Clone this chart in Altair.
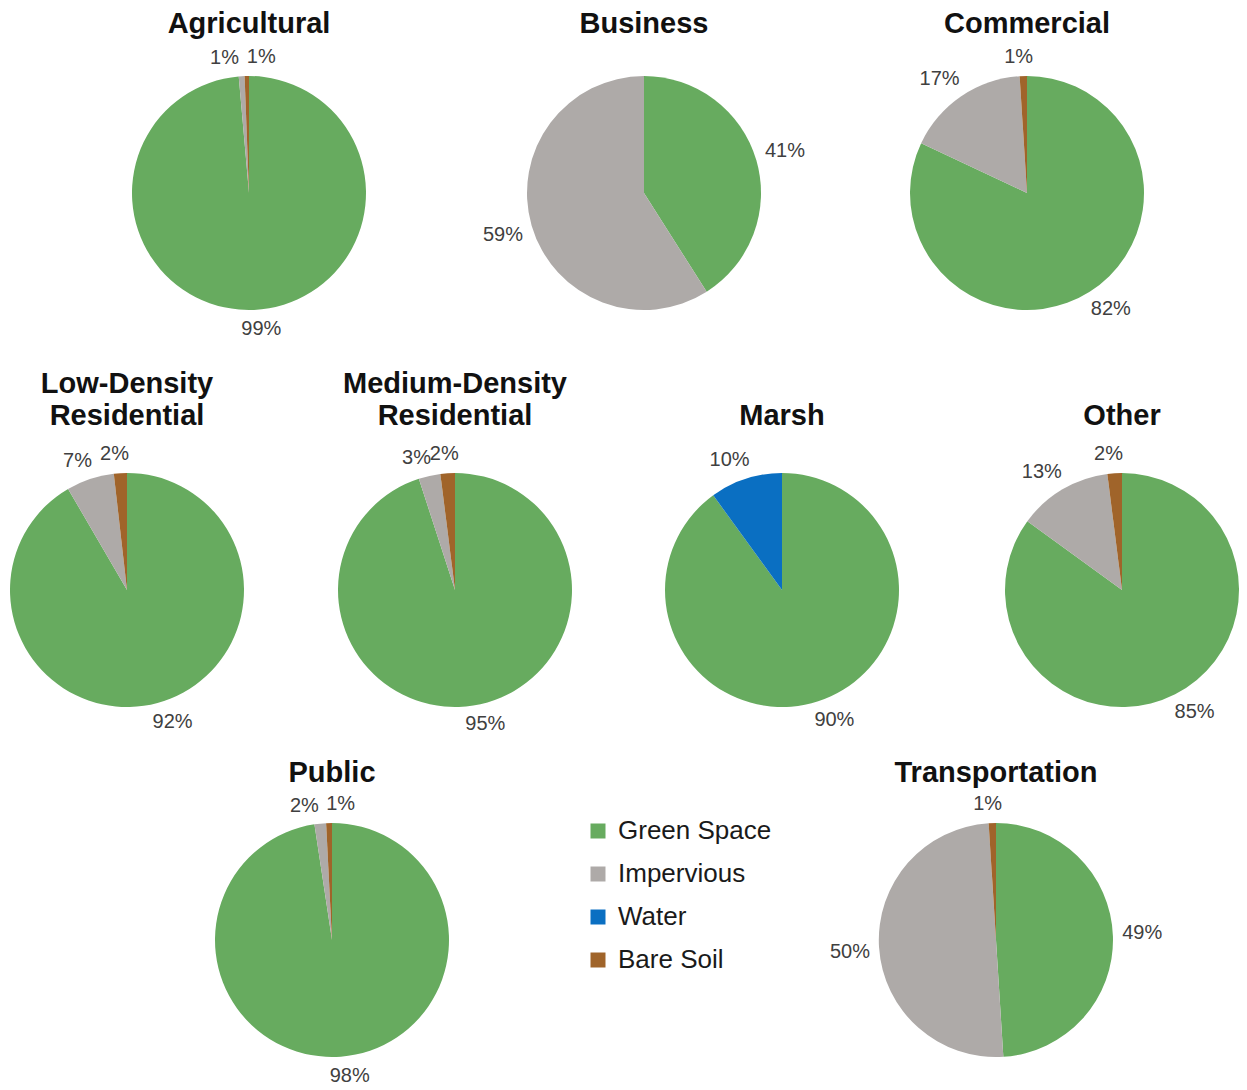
import altair as alt
import pandas as pd

# ---- data ----
categories = ["Green Space", "Impervious", "Water", "Bare Soil"]
colors = ["#67ab5f", "#aeaaa8", "#0a6fc2", "#a0642a"]

panels = ["Agricultural", "Business", "Commercial",
          "Low-Density Residential", "Medium-Density Residential", "Marsh", "Other",
          "Public", "Transportation"]
titles = [["Agricultural"], ["Business"], ["Commercial"],
          ["Low-Density", "Residential"], ["Medium-Density", "Residential"], ["", "Marsh"], ["", "Other"],
          ["Public"], ["Transportation"]]

green_space = [98.6, 41, 82, 91.6, 95, 90, 85, 97.6, 49]
impervious  = [0.8, 59, 17, 6.6, 3, 0, 13, 1.6, 50]
water       = [0, 0, 0, 0, 0, 10, 0, 0, 0]
bare_soil   = [0.6, 0, 1, 1.8, 2, 0, 2, 0.8, 1]

series = [green_space, impervious, water, bare_soil]
rows = []
for pi, p in enumerate(panels):
    for ci, c in enumerate(categories):
        rows.append({"panel": p, "category": c, "idx": ci, "value": series[ci][pi]})
df = pd.DataFrame(rows)

R = 117
W = 238

color = alt.Color("category:N",
                  scale=alt.Scale(domain=categories, range=colors),
                  legend=alt.Legend(title=None, orient="none", legendX=577, legendY=775,
                                    labelFontSize=26, labelColor="#1a1a1a", labelFont="Liberation Sans",
                                    symbolType="square", symbolSize=225, symbolStrokeWidth=0,
                                    rowPadding=17, labelOffset=7))


def pie(name, title, width=W, height=300, offset=6):
    base = alt.Chart(df).transform_filter(alt.datum.panel == name).transform_filter(alt.datum.value > 0)
    arcs = base.mark_arc(outerRadius=R).encode(
        theta=alt.Theta("value:Q", stack=True),
        color=color,
        order=alt.Order("idx:Q"),
    )
    labels = base.transform_joinaggregate(
        total="sum(value)"
    ).transform_window(
        cum="sum(value)", sort=[alt.SortField("idx")], frame=[None, 0]
    ).transform_calculate(
        mid="(datum.cum - datum.value/2) / datum.total * 360",
        pct="format(datum.value / datum.total, '.0%')",
    ).transform_window(
        nextmid="lead(mid)", prevmid="lag(mid)", sort=[alt.SortField("idx")]
    ).transform_calculate(
        la="(isValid(datum.nextmid) && datum.nextmid - datum.mid < 11) ? (datum.mid + datum.nextmid)/2 - 5.5 : "
           "((isValid(datum.prevmid) && datum.mid - datum.prevmid < 11) ? (datum.mid + datum.prevmid)/2 + 5.5 : datum.mid)"
    ).transform_calculate(
        s="sin(datum.la * PI / 180)", c="cos(datum.la * PI / 180)",
        hw="5.6 * length(datum.pct) + 3.5",
    ).transform_calculate(
        lx=f"({R} + 9) * datum.s + datum.hw * (datum.s < 0 ? -1 : 1) * pow(abs(datum.s), 0.35)",
        ly=f"-({R} + 9) * datum.c - 10 * (datum.c < 0 ? -1 : 1) * pow(abs(datum.c), 0.35)",
    ).transform_calculate(
        rl="sqrt(datum.lx * datum.lx + datum.ly * datum.ly)",
        th="atan2(datum.lx, -datum.ly)",
    ).mark_text(fontSize=20, font="Liberation Sans", color="#404040").encode(
        theta=alt.Theta("th:Q", scale=None, stack=None),
        radius=alt.Radius("rl:Q", scale=None),
        text="pct:N",
    )
    return alt.layer(arcs, labels).properties(
        width=width, height=height,
        title=alt.TitleParams(title, fontSize=29, font="Liberation Sans", fontWeight="bold",
                              color="#111111", anchor="middle", offset=offset, frame="group",
                              lineHeight=32),
    )


def spacer(width, height=300):
    return alt.Chart(pd.DataFrame({"a": [0]})).mark_text(text="").encode(
        x=alt.value(0), y=alt.value(0)).properties(width=width, height=height)


row1 = alt.hconcat(spacer(122), pie(panels[0], titles[0], offset=4), spacer(157),
                   pie(panels[1], titles[1], offset=4), spacer(145),
                   pie(panels[2], titles[2], offset=4), spacing=0, bounds="flush")
row2 = alt.hconcat(pie(panels[3], titles[3], offset=9), spacer(90), pie(panels[4], titles[4], offset=9),
                   spacer(89), pie(panels[5], titles[5], offset=9), spacer(111),
                   pie(panels[6], titles[6], 220, offset=9),
                   spacing=0, bounds="flush")
row3 = alt.hconcat(spacer(205, 292), pie(panels[7], titles[7], height=292), spacer(426, 292),
                   pie(panels[8], titles[8], height=292), spacing=0, bounds="flush")

chart = alt.vconcat(row1, spacer(10, 21), row2, spacer(10, 13), row3, spacing=0).properties(
    padding={"top": 2, "left": 0, "right": 0, "bottom": 0}).configure_view(stroke=None)

chart.save("out.html", embed_options={"renderer": "svg", "actions": False})
